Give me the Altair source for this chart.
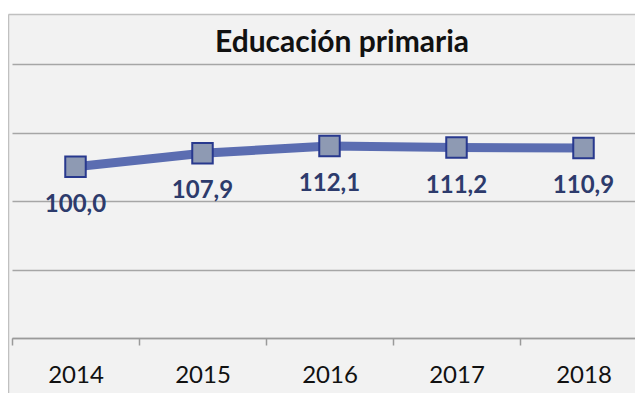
import altair as alt
import pandas as pd

years = ["2014", "2015", "2016", "2017", "2018"]
values = [100.0, 107.9, 112.1, 111.2, 110.9]
value_labels = ["100,0", "107,9", "112,1", "111,2", "110,9"]
title_text = "Educación primaria"
y_ticks = [0, 40, 80, 120, 160]

df = pd.DataFrame({"year": years, "value": values, "label": value_labels})
one = pd.DataFrame({"t": [title_text]})

W, H = 623, 274
FONT = "Lato"

x_enc = alt.X(
    "year:O",
    title=None,
    scale=alt.Scale(type="band", paddingInner=0, paddingOuter=0, range=[0, 635]),
    axis=alt.Axis(
        labelAngle=0,
        tickBand="extent",
        tickSize=7,
        tickColor="#9a9a9a",
        tickWidth=1.5,
        domainColor="#9a9a9a",
        domainWidth=1.5,
        labelFont=FONT,
        labelFontSize=24,
        labelColor="#111111",
        labelBaseline="middle",
        labelPadding=30,
        grid=False,
    ),
)
y_enc = alt.Y(
    "value:Q",
    title=None,
    scale=alt.Scale(domain=[0, 160], nice=False, zero=True),
    axis=alt.Axis(
        values=y_ticks,
        labels=False,
        ticks=False,
        domain=False,
        grid=True,
        gridColor="#a6a6a6",
        gridWidth=1.5,
    ),
)

base = alt.Chart(df).encode(x=x_enc, y=y_enc)

line = base.mark_line(color="#5b6db1", strokeWidth=9)
pts = base.mark_point(
    shape="square", filled=True, size=420, fill="#8e9ab3", stroke="#28398e",
    strokeWidth=2, opacity=1,
)
lbl = base.mark_text(
    font=FONT, fontSize=24, fontWeight="bold", color="#2d3b6c",
    baseline="middle", align="center", dy=38,
).encode(text="label:N")

white_top = alt.Chart(one).mark_rect(color="white").encode(
    x=alt.value(-10), x2=alt.value(W + 10), y=alt.value(-70), y2=alt.value(-50)
)
top_border = alt.Chart(one).mark_rule(color="#c0c0c0", strokeWidth=1.5).encode(
    x=alt.value(-3.5), x2=alt.value(W + 10), y=alt.value(-49.5)
)
left_border = alt.Chart(one).mark_rule(color="#c0c0c0", strokeWidth=1.5).encode(
    x=alt.value(-3.5), y=alt.value(-49.5), y2=alt.value(H + 120)
)
title = alt.Chart(one).mark_text(
    font=FONT, fontSize=30, fontWeight="bold", color="#111111",
    align="center", baseline="middle",
).encode(x=alt.value(330), y=alt.value(-21), text="t:N")

chart = (
    alt.layer(white_top, top_border, left_border, title, line, pts, lbl)
    .properties(
        width=W,
        height=H,
        background="#f2f2f2",
        autosize=alt.AutoSizeParams(type="none"),
        padding={"left": 4, "top": 56, "right": 0, "bottom": 55},
    )
    .configure_view(stroke=None)
)

chart.save("out.html", embed_options={"renderer": "svg", "actions": False})
